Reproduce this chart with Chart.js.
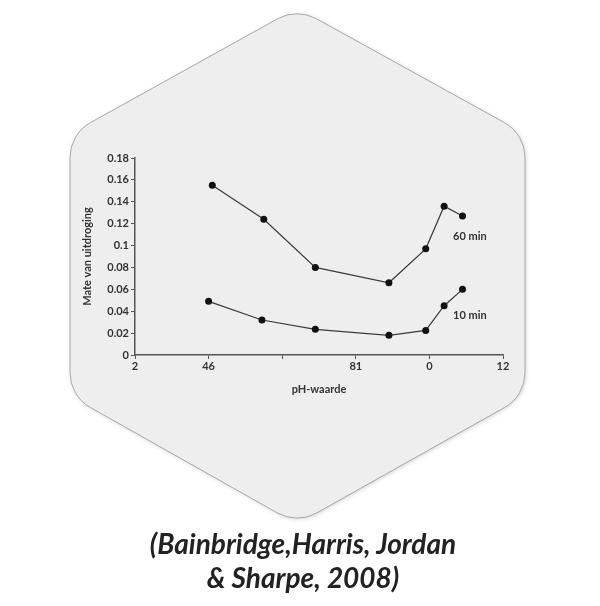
<!DOCTYPE html>
<html>
<head>
<meta charset="utf-8">
<script src="https://cdn.jsdelivr.net/npm/chart.js@4/dist/chart.umd.min.js"></script>
<style>
  html, body { margin: 0; padding: 0; background: #fff; }
  #wrap { position: relative; width: 600px; height: 606px; }
  #bron {
    position: absolute; left: 0; top: 526px; width: 606px;
    text-align: center; font-family: Lato, sans-serif; font-weight: 700;
    font-style: italic; font-size: 28px; line-height: 34px; color: #222;
  }
</style>
</head>
<body>
<div id="wrap">
  <canvas id="chart" width="600" height="606"></canvas>
  <div id="bron">(Bainbridge,Harris, Jordan<br>&amp; Sharpe, 2008)</div>
</div>
<script>
// values
var ph60 = [4.1, 5.5, 6.9, 8.9, 9.9, 10.4, 10.9];
var droog60 = [0.155, 0.124, 0.080, 0.066, 0.097, 0.136, 0.127];
var ph10 = [4.0, 5.45, 6.9, 8.9, 9.9, 10.4, 10.9];
var droog10 = [0.049, 0.032, 0.0235, 0.018, 0.0225, 0.045, 0.060];
var xTickLabels = ['2', '46', '', '81', '0', '12'];
var seriesLabels = ['60 min', '10 min'];

function pts(xs, ys) {
  return xs.map(function(x, i) { return { x: x, y: ys[i] }; });
}

// rounded hexagon behind the chart
var hexagon = {
  id: 'hexagon',
  beforeDraw: function(chart) {
    var c = chart.ctx;
    var p = [[297, 8], [525, 134], [525, 396], [297, 524], [70, 396], [70, 134]];
    var r = 40;
    c.save();
    c.beginPath();
    var m0 = [(p[5][0] + p[0][0]) / 2, (p[5][1] + p[0][1]) / 2];
    c.moveTo(m0[0], m0[1]);
    for (var i = 0; i < 6; i++) {
      var a = p[i], b = p[(i + 1) % 6];
      c.arcTo(a[0], a[1], b[0], b[1], r);
    }
    c.closePath();
    c.shadowColor = 'rgba(0,0,0,0.18)';
    c.shadowBlur = 4;
    c.shadowOffsetX = 1;
    c.shadowOffsetY = 1;
    c.fillStyle = '#eeeeee';
    c.fill();
    c.shadowColor = 'transparent';
    c.strokeStyle = '#a8a8a8';
    c.lineWidth = 1;
    c.stroke();
    c.restore();
  }
};

var seriesText = {
  id: 'seriesText',
  afterDatasetsDraw: function(chart) {
    var c = chart.ctx, xs = chart.scales.x, ys = chart.scales.y;
    c.save();
    c.font = 'bold 11px Lato, sans-serif';
    c.fillStyle = '#333';
    c.textAlign = 'center';
    c.textBaseline = 'middle';
    c.fillText(seriesLabels[0], xs.getPixelForValue(11.1), ys.getPixelForValue(0.108));
    c.fillText(seriesLabels[1], xs.getPixelForValue(11.1), ys.getPixelForValue(0.036));
    c.restore();
  }
};

var ctx = document.getElementById('chart').getContext('2d');
new Chart(ctx, {
  type: 'line',
  data: {
    datasets: [
      { label: seriesLabels[0], data: pts(ph60, droog60) },
      { label: seriesLabels[1], data: pts(ph10, droog10) }
    ]
  },
  options: {
    responsive: false,
    animation: false,
    layout: { padding: { left: 81, top: 158, right: 97, bottom: 206 } },
    elements: {
      line: { borderColor: '#3a3a3a', borderWidth: 1.2, tension: 0 },
      point: { radius: 3.5, backgroundColor: '#111', borderColor: '#111', borderWidth: 0 }
    },
    scales: {
      x: {
        type: 'linear', min: 2, max: 12,
        afterFit: function(s) { s.height = 45; },
        border: { color: '#555', width: 1.5 },
        grid: { drawOnChartArea: false, color: '#555', tickLength: 4 },
        ticks: {
          stepSize: 2, color: '#333', padding: 1,
          font: { family: 'Lato', size: 11, weight: 'bold' },
          callback: function(v, i) { return xTickLabels[i]; }
        },
        title: {
          display: true, text: 'pH-waarde', color: '#333', padding: { top: 3 },
          font: { family: 'Lato', size: 11, weight: 'bold' }
        }
      },
      y: {
        min: 0, max: 0.18,
        afterFit: function(s) { s.width = 54; },
        border: { color: '#555', width: 1.5 },
        grid: { drawOnChartArea: false, color: '#555', tickLength: 4 },
        ticks: {
          stepSize: 0.02, color: '#333', padding: 2,
          font: { family: 'Lato', size: 11, weight: 'bold' },
          callback: function(v) { return String(Number(v.toFixed(2))); }
        },
        title: {
          display: true, text: 'Mate van uitdroging', color: '#333', padding: 0,
          font: { family: 'Lato', size: 11, weight: 'bold' }
        }
      }
    },
    plugins: {
      legend: { display: false },
      tooltip: { enabled: false }
    }
  },
  plugins: [hexagon, seriesText]
});
</script>
</body>
</html>
